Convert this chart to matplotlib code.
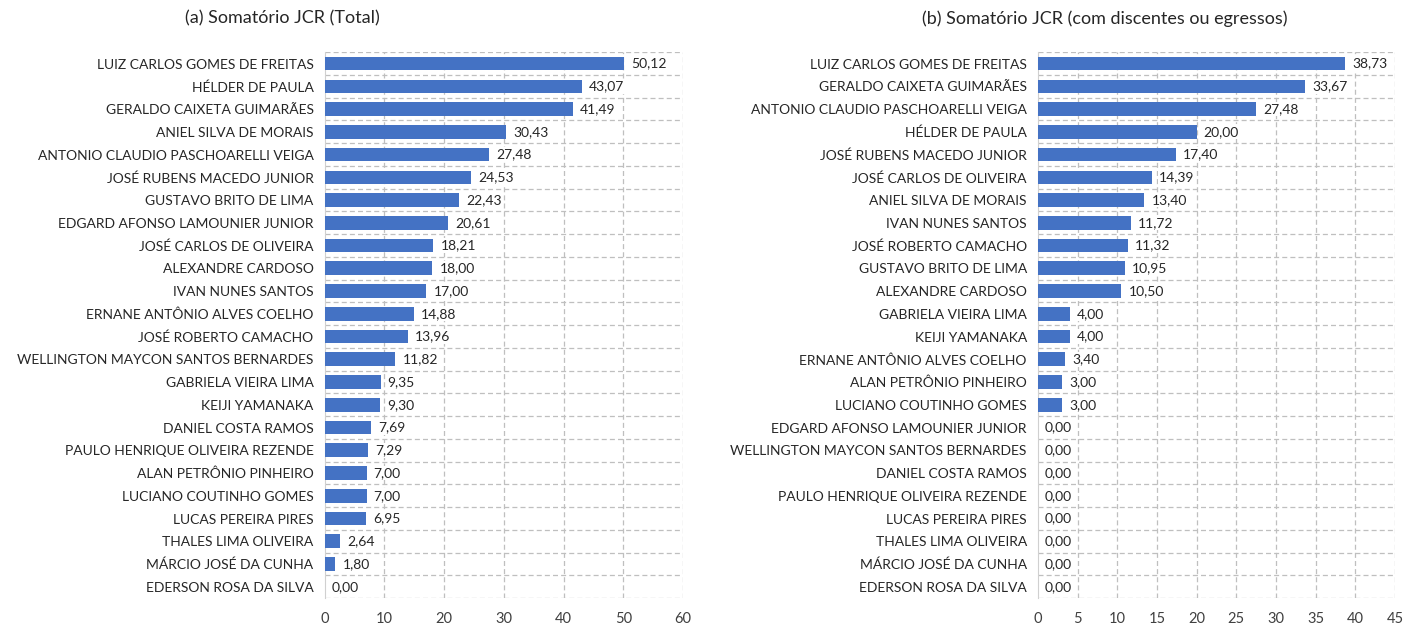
import numpy as np
import matplotlib.pyplot as plt

plt.rcParams['font.family'] = ['Lato', 'DejaVu Sans']

# (a) total
names_a = ["LUIZ CARLOS GOMES DE FREITAS", "HÉLDER DE PAULA", "GERALDO CAIXETA GUIMARÃES",
           "ANIEL SILVA DE MORAIS", "ANTONIO CLAUDIO PASCHOARELLI VEIGA", "JOSÉ RUBENS MACEDO JUNIOR",
           "GUSTAVO BRITO DE LIMA", "EDGARD AFONSO LAMOUNIER JUNIOR", "JOSÉ CARLOS DE OLIVEIRA",
           "ALEXANDRE CARDOSO", "IVAN NUNES SANTOS", "ERNANE ANTÔNIO ALVES COELHO",
           "JOSÉ ROBERTO CAMACHO", "WELLINGTON MAYCON SANTOS BERNARDES", "GABRIELA VIEIRA LIMA",
           "KEIJI YAMANAKA", "DANIEL COSTA RAMOS", "PAULO HENRIQUE OLIVEIRA REZENDE",
           "ALAN PETRÔNIO PINHEIRO", "LUCIANO COUTINHO GOMES", "LUCAS PEREIRA PIRES",
           "THALES LIMA OLIVEIRA", "MÁRCIO JOSÉ DA CUNHA", "EDERSON ROSA DA SILVA"]
vals_a = [50.12, 43.07, 41.49, 30.43, 27.48, 24.53, 22.43, 20.61, 18.21, 18.00, 17.00, 14.88,
          13.96, 11.82, 9.35, 9.30, 7.69, 7.29, 7.00, 7.00, 6.95, 2.64, 1.80, 0.00]

# (b) with students or alumni
names_b = ["LUIZ CARLOS GOMES DE FREITAS", "GERALDO CAIXETA GUIMARÃES", "ANTONIO CLAUDIO PASCHOARELLI VEIGA",
           "HÉLDER DE PAULA", "JOSÉ RUBENS MACEDO JUNIOR", "JOSÉ CARLOS DE OLIVEIRA",
           "ANIEL SILVA DE MORAIS", "IVAN NUNES SANTOS", "JOSÉ ROBERTO CAMACHO",
           "GUSTAVO BRITO DE LIMA", "ALEXANDRE CARDOSO", "GABRIELA VIEIRA LIMA",
           "KEIJI YAMANAKA", "ERNANE ANTÔNIO ALVES COELHO", "ALAN PETRÔNIO PINHEIRO",
           "LUCIANO COUTINHO GOMES", "EDGARD AFONSO LAMOUNIER JUNIOR", "WELLINGTON MAYCON SANTOS BERNARDES",
           "DANIEL COSTA RAMOS", "PAULO HENRIQUE OLIVEIRA REZENDE", "LUCAS PEREIRA PIRES",
           "THALES LIMA OLIVEIRA", "MÁRCIO JOSÉ DA CUNHA", "EDERSON ROSA DA SILVA"]
vals_b = [38.73, 33.67, 27.48, 20.00, 17.40, 14.39, 13.40, 11.72, 11.32, 10.95, 10.50, 4.00,
          4.00, 3.40, 3.00, 3.00, 0.00, 0.00, 0.00, 0.00, 0.00, 0.00, 0.00, 0.00]

xmax_a, step_a = 60, 10
xmax_b, step_b = 45, 5

fig = plt.figure(figsize=(14.18, 6.29), dpi=100)
ax_a = fig.add_axes([0.229, 0.049, 0.2527, 0.868])
ax_b = fig.add_axes([0.732, 0.049, 0.2517, 0.868])


def draw(ax, names, vals, xmax, step, title, title_x):
    n = len(names)
    y = np.arange(n)
    ax.barh(y, vals, height=0.6, color="#4472C4", zorder=3)
    for yi, v in zip(y, vals):
        ax.text(v + xmax * 0.02, yi, f"{v:.2f}".replace(".", ","), va="center", ha="left",
                fontsize=10, color="#262626", zorder=4,
                bbox=dict(facecolor="white", edgecolor="none", pad=1))
    ax.set_ylim(n - 0.5, -0.5)
    ax.set_xlim(0, xmax)
    ax.set_yticks(y)
    ax.set_yticklabels(names, fontsize=10, color="#262626")
    ax.set_xticks(np.arange(0, xmax + 1, step))
    ax.tick_params(axis="x", labelsize=10.5, colors="#404040", length=0, pad=10)
    ax.tick_params(axis="y", length=0, pad=8)
    for xv in np.arange(step, xmax + 1, step):
        ax.axvline(xv, color="#BFBFBF", lw=0.9, ls=(0, (4, 2.5)), zorder=1)
    for yb in np.arange(-0.5, n, 1.0):
        ax.axhline(yb, color="#BFBFBF", lw=0.9, ls=(0, (4, 2.5)), zorder=1)
    for s in ["top", "right", "bottom"]:
        ax.spines[s].set_visible(False)
    ax.spines["left"].set_color("#D0D0D0")
    fig.text(title_x, 0.971, title, ha="center", va="center", fontsize=13, color="#262626")


draw(ax_a, names_a, vals_a, xmax_a, step_a, "(a) Somatório JCR (Total)", 0.199)
draw(ax_b, names_b, vals_b, xmax_b, step_b, "(b) Somatório JCR (com discentes ou egressos)", 0.779)

fig.savefig("out.png", dpi=100)
